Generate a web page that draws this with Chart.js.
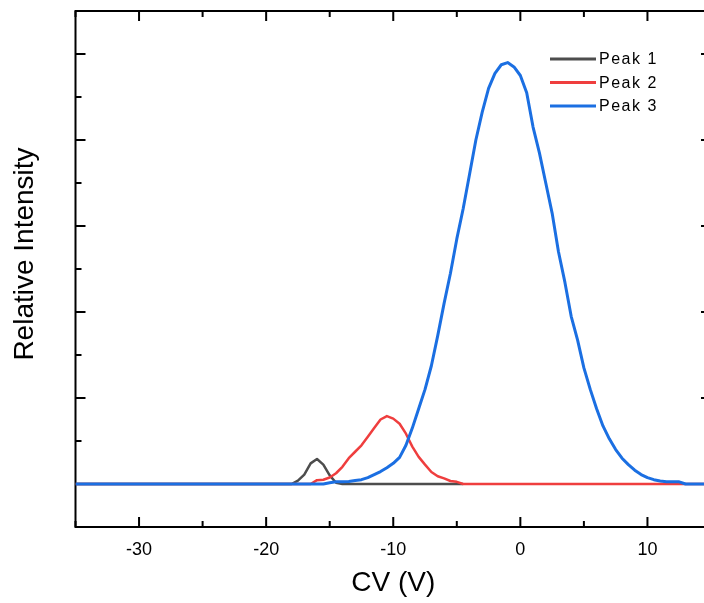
<!DOCTYPE html>
<html lang="en">
<head>
    <meta charset="UTF-8">
    <title>CV peaks</title>
    <style>
        body { margin: 0; overflow: hidden; background: #fff; }
        #wrap { width: 740px; height: 603px; }
    </style>
</head>
<body>
    <div id="wrap">
        <canvas id="myChart" width="740" height="603"></canvas>
    </div>

    <script src="https://cdn.jsdelivr.net/npm/chart.js"></script>

    <script>
        // values (CV in volts, intensity in tick units)
        let peakNames = ['Peak 1', 'Peak 2', 'Peak 3'];

        let cv1 = [-35, -18, -17.5, -17, -16.5, -16, -15.5, -15, -14.5, -14, -4.5];
        let int1 = [0, 0, 0.08, 0.22, 0.48, 0.58, 0.45, 0.2, 0.03, 0, 0];

        let cv2 = [-35, -16.5, -16, -15.5, -15, -14.5, -14, -13.5, -13, -12.5, -12, -11.5, -11, -10.5,
                   -10, -9.5, -9, -8.5, -8, -7.5, -7, -6.5, -6, -5.5, -5, -4.5, 15];
        let int2 = [0, 0, 0.09, 0.1, 0.15, 0.25, 0.4, 0.6, 0.75, 0.9, 1.1, 1.3, 1.5, 1.58,
                    1.52, 1.4, 1.17, 0.87, 0.63, 0.45, 0.28, 0.18, 0.13, 0.07, 0.05, 0, 0];

        let cv3 = [-35, -15.5, -15, -14.5, -14, -13.5, -13, -12.5, -12, -11.5, -11, -10.5, -10, -9.5, -9, -8.5,
                   -8, -7.5, -7, -6.5, -6, -5.5, -5, -4.5, -4, -3.5, -3, -2.5, -2, -1.5, -1, -0.5,
                   0, 0.5, 1, 1.5, 2, 2.5, 3, 3.5, 4, 4.5, 5, 5.5, 6, 6.5, 7, 7.5, 8, 8.5, 9, 9.5,
                   10, 10.5, 11, 11.5, 12, 12.5, 13, 15];
        let int3 = [0, 0, 0.03, 0.05, 0.05, 0.06, 0.08, 0.1, 0.15, 0.22, 0.29, 0.38, 0.48, 0.62, 0.9, 1.3,
                    1.75, 2.2, 2.75, 3.45, 4.2, 4.9, 5.7, 6.4, 7.2, 8.0, 8.65, 9.2, 9.55, 9.75, 9.8, 9.7,
                    9.5, 9.1, 8.3, 7.7, 7.0, 6.3, 5.4, 4.7, 3.9, 3.35, 2.7, 2.2, 1.75, 1.35, 1.05, 0.8, 0.6, 0.45, 0.32, 0.22,
                    0.15, 0.1, 0.07, 0.05, 0.05, 0.05, 0, 0];

        let xTicks = [-30, -20, -10, 0, 10];

        const fontFamily = '"Liberation Sans", Arial, sans-serif';

        function toPoints(xs, ys) {
            return xs.map((x, i) => ({ x: x, y: ys[i] }));
        }

        // box with inward ticks on all four sides, drawn under the curves
        const frame = {
            id: 'frame',
            beforeDatasetsDraw(chart) {
                const ctx = chart.ctx;
                const a = chart.chartArea;
                const xs = chart.scales.x;
                const ys = chart.scales.y;
                ctx.save();
                ctx.strokeStyle = '#000';
                ctx.lineWidth = 2;
                ctx.strokeRect(a.left, a.top, a.right - a.left, a.bottom - a.top);
                ctx.beginPath();
                for (let v = -35; v <= 15; v += 5) {
                    const px = xs.getPixelForValue(v);
                    const len = v % 10 === 0 ? 10 : 6;
                    ctx.moveTo(px, a.bottom);
                    ctx.lineTo(px, a.bottom - len);
                    ctx.moveTo(px, a.top);
                    ctx.lineTo(px, a.top + len);
                }
                for (let v = -1; v <= 11; v += 1) {
                    const py = ys.getPixelForValue(v);
                    const len = v % 2 === 0 ? 10 : 6;
                    ctx.moveTo(a.left, py);
                    ctx.lineTo(a.left + len, py);
                    ctx.moveTo(a.right, py);
                    ctx.lineTo(a.right - len, py);
                }
                ctx.stroke();

                // y title, centred a little above the middle as in the original
                ctx.translate(25, 254);
                ctx.rotate(-Math.PI / 2);
                ctx.font = '28px ' + fontFamily;
                ctx.fillStyle = '#000';
                ctx.textAlign = 'center';
                ctx.textBaseline = 'middle';
                ctx.fillText('Relative Intensity', 0, 0);
                ctx.restore();
            }
        };

        const legendBox = {
            id: 'legendBox',
            afterDraw(chart) {
                const ctx = chart.ctx;
                ctx.save();
                ctx.font = '16px ' + fontFamily;
                ctx.textBaseline = 'middle';
                ctx.fillStyle = '#000';
                if ('letterSpacing' in ctx) ctx.letterSpacing = '1.5px';
                chart.data.datasets.forEach((ds, i) => {
                    const y = 59 + i * 23.5;
                    ctx.strokeStyle = ds.borderColor;
                    ctx.lineWidth = 3;
                    ctx.beginPath();
                    ctx.moveTo(550, y);
                    ctx.lineTo(596, y);
                    ctx.stroke();
                    ctx.fillText(ds.label, 599, y + 1);
                });
                ctx.restore();
            }
        };

        const ctx = document.getElementById('myChart');

        let datasets = [
            {
                label: peakNames[0],
                data: toPoints(cv1, int1),
                borderColor: '#4d4d4d',
                borderWidth: 2.5,
                order: 3,
            },
            {
                label: peakNames[1],
                data: toPoints(cv2, int2),
                borderColor: '#ef3e3e',
                borderWidth: 2.5,
                order: 2,
            },
            {
                label: peakNames[2],
                data: toPoints(cv3, int3),
                borderColor: '#1b6fe2',
                borderWidth: 3,
                order: 1,
            },
        ];

        let chart = new Chart(ctx, {
            type: 'line',
            data: { datasets: datasets },
            options: {
                responsive: false,
                animation: false,
                layout: { padding: { top: 11, right: 29, left: 0, bottom: 0 } },
                elements: {
                    point: { radius: 0 },
                    line: { tension: 0, fill: false, borderJoinStyle: 'round' },
                },
                plugins: {
                    legend: { display: false },
                    tooltip: { enabled: false },
                },
                scales: {
                    x: {
                        type: 'linear',
                        min: -35,
                        max: 15,
                        grid: { display: false, drawTicks: false },
                        border: { display: false },
                        afterBuildTicks(scale) {
                            scale.ticks = xTicks.map(v => ({ value: v }));
                        },
                        afterFit(scale) { scale.height = 76; },
                        ticks: {
                            padding: 12,
                            color: '#000',
                            font: { family: fontFamily, size: 18 },
                        },
                        title: {
                            display: true,
                            text: 'CV (V)',
                            color: '#000',
                            font: { family: fontFamily, size: 28 },
                            padding: { top: 0, bottom: 3 },
                        },
                    },
                    y: {
                        type: 'linear',
                        min: -1,
                        max: 11,
                        grid: { display: false, drawTicks: false },
                        border: { display: false },
                        ticks: { display: false },
                        afterFit(scale) { scale.width = 75.5; },
                        title: { display: false },
                    },
                },
            },
            plugins: [frame, legendBox],
        });
    </script>
</body>
</html>
